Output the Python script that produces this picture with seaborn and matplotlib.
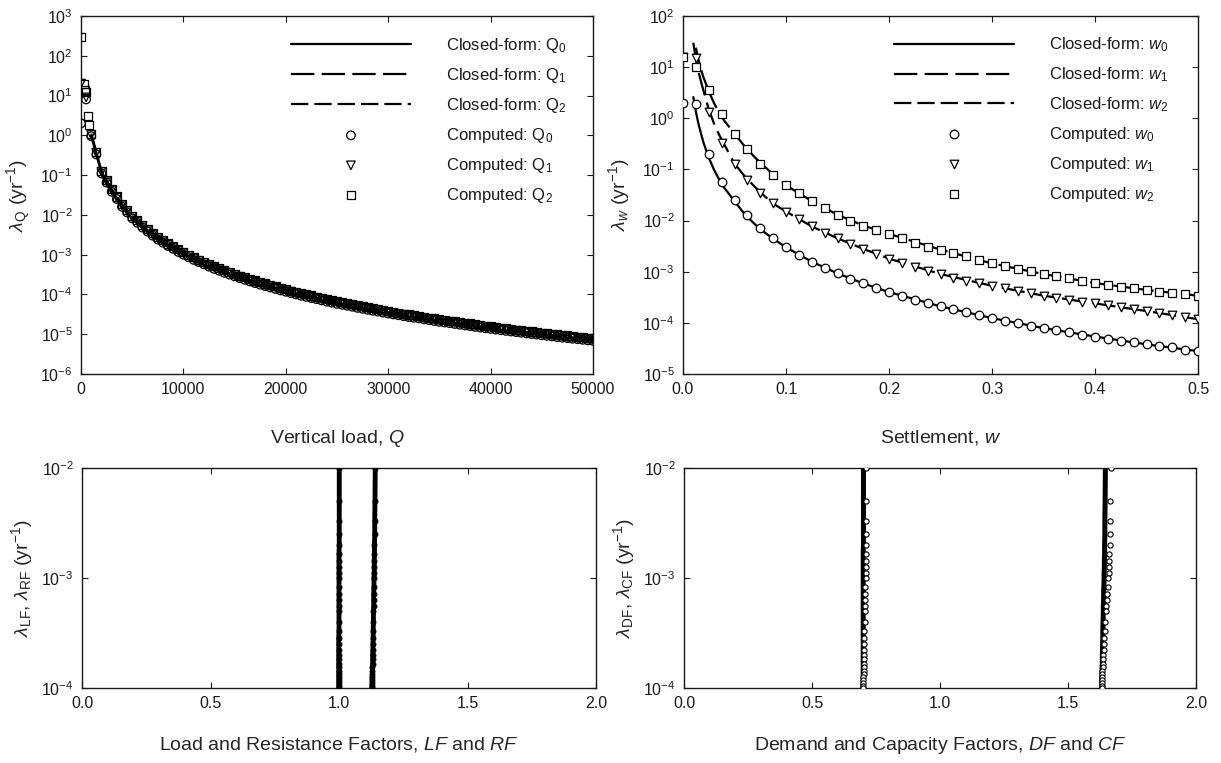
import matplotlib
matplotlib.use('Agg')
import matplotlib.pyplot as plt
import matplotlib.ticker as mticker
import seaborn as sns

# ---- top-left: vertical load Q ----
q_vals = [0, 500, 1000, 1500, 2000, 2500, 3000, 3500, 4000, 4500,
          5000, 5500, 6000, 6500, 7000, 7500, 8000, 8500, 9000, 9500,
          10000, 10500, 11000, 11500, 12000, 12500, 13000, 13500, 14000, 14500,
          15000, 15500, 16000, 16500, 17000, 17500, 18000, 18500, 19000, 19500,
          20000, 20500, 21000, 21500, 22000, 22500, 23000, 23500, 24000, 24500,
          25000, 25500, 26000, 26500, 27000, 27500, 28000, 28500, 29000, 29500,
          30000, 30500, 31000, 31500, 32000, 32500, 33000, 33500, 34000, 34500,
          35000, 35500, 36000, 36500, 37000, 37500, 38000, 38500, 39000, 39500,
          40000, 40500, 41000, 41500, 42000, 42500, 43000, 43500, 44000, 44500,
          45000, 45500, 46000, 46500, 47000, 47500, 48000, 48500, 49000, 49500,
          50000]
lam_q0 = [2.0, 8.0, 0.95, 0.33, 0.11, 0.065, 0.038, 0.025, 0.016, 0.0115,
          0.0082, 0.0063, 0.0048, 0.0038, 0.0030, 0.0024, 0.0020, 0.00165, 0.0014, 0.00117,
          1.0e-3, 8.6e-4, 7.4e-4, 6.5e-4, 5.7e-4, 5.0e-4, 4.4e-4, 3.94e-4, 3.5e-4, 3.16e-4,
          2.85e-4, 2.57e-4, 2.33e-4, 2.12e-4, 1.93e-4, 1.76e-4, 1.62e-4, 1.49e-4, 1.37e-4, 1.26e-4,
          1.17e-4, 1.08e-4, 1.0e-4, 9.3e-5, 8.7e-5, 8.1e-5, 7.6e-5, 7.1e-5, 6.6e-5, 6.2e-5,
          5.8e-5, 5.5e-5, 5.2e-5, 4.9e-5, 4.6e-5, 4.35e-5, 4.1e-5, 3.9e-5, 3.7e-5, 3.5e-5,
          3.3e-5, 3.15e-5, 3.0e-5, 2.85e-5, 2.7e-5, 2.6e-5, 2.5e-5, 2.36e-5, 2.25e-5, 2.15e-5,
          2.05e-5, 1.97e-5, 1.9e-5, 1.81e-5, 1.73e-5, 1.66e-5, 1.6e-5, 1.53e-5, 1.47e-5, 1.41e-5,
          1.36e-5, 1.31e-5, 1.26e-5, 1.21e-5, 1.17e-5, 1.13e-5, 1.09e-5, 1.05e-5, 1.01e-5, 9.8e-6,
          9.4e-6, 9.1e-6, 8.8e-6, 8.5e-6, 8.2e-6, 8.0e-6, 7.7e-6, 7.5e-6, 7.25e-6, 7.0e-6,
          6.8e-6]
lam_q1 = [20.0, 9.0, 1.03, 0.36, 0.12, 0.07, 0.041, 0.027, 0.0173, 0.0124,
          0.0089, 0.0068, 0.0052, 0.0041, 0.0032, 0.0026, 0.00216, 0.00178, 0.00151, 0.00126,
          1.08e-3, 9.3e-4, 8.0e-4, 7.0e-4, 6.2e-4, 5.4e-4, 4.75e-4, 4.25e-4, 3.78e-4, 3.41e-4,
          3.08e-4, 2.78e-4, 2.52e-4, 2.29e-4, 2.08e-4, 1.9e-4, 1.75e-4, 1.61e-4, 1.48e-4, 1.36e-4,
          1.26e-4, 1.17e-4, 1.08e-4, 1.0e-4, 9.4e-5, 8.7e-5, 8.2e-5, 7.7e-5, 7.1e-5, 6.7e-5,
          6.3e-5, 5.9e-5, 5.6e-5, 5.3e-5, 5.0e-5, 4.7e-5, 4.4e-5, 4.2e-5, 4.0e-5, 3.8e-5,
          3.56e-5, 3.4e-5, 3.24e-5, 3.08e-5, 2.92e-5, 2.8e-5, 2.7e-5, 2.55e-5, 2.43e-5, 2.32e-5,
          2.21e-5, 2.13e-5, 2.05e-5, 1.95e-5, 1.87e-5, 1.79e-5, 1.73e-5, 1.65e-5, 1.59e-5, 1.52e-5,
          1.47e-5, 1.41e-5, 1.36e-5, 1.31e-5, 1.26e-5, 1.22e-5, 1.18e-5, 1.13e-5, 1.09e-5, 1.06e-5,
          1.02e-5, 9.8e-6, 9.5e-6, 9.2e-6, 8.9e-6, 8.6e-6, 8.3e-6, 8.1e-6, 7.8e-6, 7.6e-6,
          7.3e-6]
lam_q2 = [300.0, 12.0, 1.1, 0.38, 0.128, 0.075, 0.044, 0.029, 0.0186, 0.0133,
          0.0095, 0.0073, 0.0056, 0.0044, 0.0035, 0.0028, 0.00232, 0.00191, 0.00162, 0.00136,
          1.16e-3, 1.0e-3, 8.6e-4, 7.5e-4, 6.6e-4, 5.8e-4, 5.1e-4, 4.57e-4, 4.06e-4, 3.67e-4,
          3.31e-4, 2.98e-4, 2.7e-4, 2.46e-4, 2.24e-4, 2.04e-4, 1.88e-4, 1.73e-4, 1.59e-4, 1.46e-4,
          1.36e-4, 1.25e-4, 1.16e-4, 1.08e-4, 1.01e-4, 9.4e-5, 8.8e-5, 8.2e-5, 7.7e-5, 7.2e-5,
          6.7e-5, 6.4e-5, 6.0e-5, 5.7e-5, 5.3e-5, 5.05e-5, 4.76e-5, 4.5e-5, 4.3e-5, 4.06e-5,
          3.83e-5, 3.65e-5, 3.48e-5, 3.3e-5, 3.13e-5, 3.0e-5, 2.9e-5, 2.74e-5, 2.61e-5, 2.5e-5,
          2.38e-5, 2.29e-5, 2.2e-5, 2.1e-5, 2.0e-5, 1.93e-5, 1.86e-5, 1.77e-5, 1.7e-5, 1.64e-5,
          1.58e-5, 1.52e-5, 1.46e-5, 1.4e-5, 1.36e-5, 1.31e-5, 1.26e-5, 1.22e-5, 1.17e-5, 1.14e-5,
          1.09e-5, 1.06e-5, 1.02e-5, 9.9e-6, 9.5e-6, 9.3e-6, 8.9e-6, 8.7e-6, 8.4e-6, 8.1e-6,
          7.9e-6]
q_early = [250, 400, 650, 800]
lam_q2_early = [20.0, 14.0, 3.0, 1.8]

# ---- top-right: settlement w ----
w_vals = [0.0, 0.0125, 0.025, 0.0375, 0.05, 0.0625, 0.075, 0.0875, 0.1, 0.1125,
          0.125, 0.1375, 0.15, 0.1625, 0.175, 0.1875, 0.2, 0.2125, 0.225, 0.2375,
          0.25, 0.2625, 0.275, 0.2875, 0.3, 0.3125, 0.325, 0.3375, 0.35, 0.3625,
          0.375, 0.3875, 0.4, 0.4125, 0.425, 0.4375, 0.45, 0.4625, 0.475, 0.4875, 0.5]
lam_w0 = [2.0, 1.9, 0.2, 0.057, 0.025, 0.013, 0.0072, 0.0045, 0.0030, 0.00213,
          0.00157, 0.00119, 0.00093, 0.00073, 0.00059, 0.00048, 0.00040, 0.000337, 0.000286, 0.000244,
          0.00021, 0.000183, 0.00016, 0.00014, 0.000124, 0.00011, 9.8e-5, 8.8e-5, 7.9e-5, 7.2e-5,
          6.5e-5, 5.9e-5, 5.4e-5, 4.9e-5, 4.5e-5, 4.15e-5, 3.8e-5, 3.5e-5, 3.3e-5, 3.0e-5, 2.8e-5]
lam_w1 = [16.0, 15.0, 1.34, 0.33, 0.13, 0.063, 0.035, 0.022, 0.015, 0.0105,
          0.0077, 0.0058, 0.0045, 0.0035, 0.0028, 0.0022, 0.0018, 0.00148, 0.00124, 0.00105,
          0.0009, 0.00077, 0.00067, 0.00059, 0.00053, 0.00047, 0.00042, 0.00038, 0.00034, 0.00031,
          0.00028, 0.00026, 0.00024, 0.00022, 0.0002, 0.000185, 0.00017, 0.000156, 0.000144, 0.000131, 0.000118]
lam_w2 = [16.0, 10.0, 3.5, 1.2, 0.5, 0.25, 0.13, 0.077, 0.049, 0.034,
          0.024, 0.0175, 0.013, 0.0100, 0.0080, 0.0066, 0.0055, 0.0045, 0.0037, 0.0031,
          0.0027, 0.0023, 0.0020, 0.0017, 0.00145, 0.00128, 0.00114, 0.00101, 0.0009, 0.00082,
          0.00074, 0.00066, 0.0006, 0.00056, 0.00051, 0.00047, 0.00044, 0.00041, 0.00038, 0.00036, 0.00034]

w_line = [0.01, 0.0125, 0.015, 0.0175, 0.02, 0.025, 0.03, 0.035, 0.04, 0.05,
          0.06, 0.07, 0.08, 0.09, 0.1, 0.125, 0.15, 0.175, 0.2, 0.25,
          0.3, 0.35, 0.4, 0.45, 0.5]
cf_w0 = [2.6, 1.35, 0.78, 0.5, 0.33, 0.17, 0.1, 0.064, 0.044, 0.024,
         0.0132, 0.0084, 0.0057, 0.0041, 0.003, 0.00157, 0.00093, 0.00059, 0.0004, 0.00021,
         0.000124, 7.9e-5, 5.4e-5, 3.8e-5, 2.8e-5]
cf_w1 = [30.0, 14.5, 8.3, 5.2, 3.4, 1.5, 0.8, 0.48, 0.31, 0.13,
         0.073, 0.045, 0.029, 0.020, 0.015, 0.0077, 0.0045, 0.0028, 0.0018, 0.0009,
         0.00053, 0.00034, 0.00024, 0.00017, 0.000118]
w_line2 = [0.0125, 0.015, 0.0175, 0.02, 0.025, 0.03, 0.035, 0.04, 0.05,
           0.06, 0.07, 0.08, 0.09, 0.1, 0.125, 0.15, 0.175, 0.2, 0.25,
           0.3, 0.35, 0.4, 0.45, 0.5]
cf_w2 = [24.0, 14.0, 9.0, 6.2, 3.4, 2.0, 1.3, 0.9, 0.5,
         0.28, 0.17, 0.11, 0.072, 0.049, 0.024, 0.013, 0.008, 0.0055, 0.0027,
         0.00145, 0.0009, 0.0006, 0.00044, 0.00034]

# ---- bottom: factors ----
lam_f = [1.0e-2, 5.0e-3, 3.33e-3, 2.5e-3, 2.0e-3, 1.67e-3, 1.43e-3, 1.25e-3, 1.11e-3, 1.0e-3,
         8.3e-4, 7.1e-4, 6.25e-4, 5.6e-4, 5.0e-4, 4.0e-4, 3.33e-4, 2.86e-4, 2.5e-4, 2.22e-4,
         2.0e-4, 1.82e-4, 1.67e-4, 1.54e-4, 1.43e-4, 1.33e-4, 1.25e-4, 1.18e-4, 1.11e-4, 1.05e-4, 1.0e-4]
lf_vals = [1.001, 1.001, 1.001, 1.001, 1.001, 1.0, 1.0, 1.0, 1.0, 1.0,
           1.0, 1.0, 1.0, 1.0, 1.0, 1.0, 1.0, 0.999, 0.999, 0.999,
           0.999, 0.999, 0.999, 0.999, 0.999, 0.999, 0.999, 0.999, 0.999, 0.999, 0.999]
rf_vals = [1.141, 1.140, 1.139, 1.139, 1.138, 1.138, 1.137, 1.137, 1.137, 1.136,
           1.136, 1.135, 1.135, 1.135, 1.134, 1.134, 1.133, 1.133, 1.132, 1.132,
           1.131, 1.131, 1.131, 1.130, 1.130, 1.130, 1.129, 1.129, 1.129, 1.128, 1.128]
df_line = [0.701, 0.701, 0.701, 0.701, 0.701, 0.700, 0.700, 0.700, 0.700, 0.700,
           0.700, 0.700, 0.700, 0.700, 0.700, 0.700, 0.700, 0.700, 0.700, 0.700,
           0.700, 0.700, 0.700, 0.700, 0.700, 0.700, 0.700, 0.700, 0.699, 0.699, 0.699]
df_pts = [0.712, 0.712, 0.711, 0.711, 0.711, 0.710, 0.710, 0.710, 0.709, 0.709,
          0.708, 0.708, 0.707, 0.707, 0.706, 0.706, 0.705, 0.705, 0.704, 0.704,
          0.703, 0.703, 0.703, 0.702, 0.702, 0.702, 0.701, 0.701, 0.701, 0.700, 0.700]
cf_line = [1.646, 1.645, 1.644, 1.644, 1.643, 1.643, 1.642, 1.642, 1.641, 1.641,
           1.640, 1.639, 1.639, 1.638, 1.638, 1.637, 1.636, 1.636, 1.635, 1.635,
           1.634, 1.634, 1.634, 1.633, 1.633, 1.633, 1.632, 1.632, 1.632, 1.632, 1.631]
cf_pts = [1.668, 1.666, 1.665, 1.664, 1.663, 1.662, 1.661, 1.660, 1.659, 1.658,
          1.656, 1.654, 1.652, 1.650, 1.648, 1.646, 1.644, 1.642, 1.640, 1.639,
          1.638, 1.637, 1.636, 1.635, 1.634, 1.633, 1.633, 1.632, 1.632, 1.632, 1.631]

INK = '#1a1a1a'
DASH_1 = (0, (10.5, 3.3))
DASH_2 = (0, (7.8, 2.7))


def style_axis(ax, xlim, xticks, xfmt, ylim):
    ax.set_yscale('log')
    ax.set_xlim(*xlim)
    ax.set_ylim(*ylim)
    ax.set_xticks(xticks)
    ax.xaxis.set_major_formatter(mticker.FormatStrFormatter(xfmt))
    ax.yaxis.set_major_locator(mticker.LogLocator(base=10, numticks=20))
    ax.yaxis.set_minor_locator(mticker.NullLocator())
    ax.tick_params(direction='in', length=4, width=0.8, top=True, right=True,
                   labelsize=11.5, pad=6, colors=INK)
    for s in ax.spines.values():
        s.set_linewidth(1.0)
        s.set_color(INK)


def add_legend(ax, handles, labels):
    ax.legend(handles, labels, loc='upper left', bbox_to_anchor=(0.41, 0.945),
              frameon=False, fontsize=12, handlelength=7.2, handletextpad=2.1,
              labelspacing=0.66, borderpad=0, borderaxespad=0, scatterpoints=1,
              labelcolor=INK)


def curve(ax, x, y, ls, label=None):
    sns.lineplot(x=x, y=y, ax=ax, color='black', linewidth=1.6, linestyle=ls,
                 estimator=None, sort=False, label=label, legend=False)


def points(ax, x, y, marker, s, fill='white', label=None):
    sns.scatterplot(x=x, y=y, ax=ax, marker=marker, s=s, color='black',
                    facecolor=fill, edgecolor='black', linewidth=0.9,
                    label=label, legend=False, zorder=3)


def main():
    sns.set_theme(style='ticks')
    plt.rcParams['font.family'] = ['Liberation Sans', 'DejaVu Sans']
    plt.rcParams['mathtext.fontset'] = 'custom'
    plt.rcParams['mathtext.rm'] = 'Liberation Sans'
    plt.rcParams['mathtext.it'] = 'Liberation Sans:italic'
    plt.rcParams['mathtext.sf'] = 'Liberation Sans'
    plt.rcParams['text.color'] = INK

    W, H = 1221, 763
    fig = plt.figure(figsize=(W / 100, H / 100), dpi=100)
    fig.patch.set_facecolor('white')

    def box(x0, x1, y0, y1):
        return [x0 / W, 1 - y1 / H, (x1 - x0) / W, (y1 - y0) / H]

    ax_q = fig.add_axes(box(81, 593, 16, 374))
    ax_w = fig.add_axes(box(683, 1198, 16, 374))
    ax_lr = fig.add_axes(box(82, 596, 468, 688))
    ax_dc = fig.add_axes(box(684, 1196, 468, 688))

    # vertical load (dense, hollow markers form a solid band)
    curve(ax_q, q_vals[2:], lam_q0[2:], '-')
    curve(ax_q, q_vals[2:], lam_q1[2:], DASH_1)
    curve(ax_q, q_vals[2:], lam_q2[2:], DASH_2)
    points(ax_q, q_vals, lam_q0, 'o', 38, fill='none')
    points(ax_q, q_vals, lam_q1, 'v', 38, fill='none')
    points(ax_q, q_vals, lam_q2, 's', 34, fill='none')
    points(ax_q, q_early, lam_q2_early, 's', 34, fill='none')
    style_axis(ax_q, (0, 50000), [0, 10000, 20000, 30000, 40000, 50000], '%d', (1e-6, 1e3))
    h = ax_q.get_lines()[:3] + ax_q.collections[:3]
    add_legend(ax_q, h, ['Closed-form: Q$_0$', 'Closed-form: Q$_1$', 'Closed-form: Q$_2$',
                         'Computed: Q$_0$', 'Computed: Q$_1$', 'Computed: Q$_2$'])
    ax_q.set_xlabel('Vertical load, $Q$', fontsize=14)
    ax_q.set_ylabel(r'$\lambda_{\rm Q}$ (yr$^{-1}$)', fontsize=14)

    # settlement
    curve(ax_w, w_line, cf_w0, '-')
    curve(ax_w, w_line, cf_w1, DASH_1)
    curve(ax_w, w_line2, cf_w2, DASH_2)
    points(ax_w, w_vals, lam_w0, 'o', 38)
    points(ax_w, w_vals, lam_w1, 'v', 38)
    points(ax_w, w_vals, lam_w2, 's', 34)
    style_axis(ax_w, (0, 0.5), [0, 0.1, 0.2, 0.3, 0.4, 0.5], '%.1f', (1e-5, 1e2))
    h = ax_w.get_lines()[:3] + ax_w.collections[:3]
    add_legend(ax_w, h, ['Closed-form: $w_0$', 'Closed-form: $w_1$', 'Closed-form: $w_2$',
                         'Computed: $w_0$', 'Computed: $w_1$', 'Computed: $w_2$'])
    ax_w.set_xlabel('Settlement, $w$', fontsize=14)
    ax_w.set_ylabel(r'$\lambda_w$ (yr$^{-1}$)', fontsize=14)

    # load and resistance factors
    for xs in (lf_vals, rf_vals):
        sns.lineplot(x=xs, y=lam_f, ax=ax_lr, color='black', linewidth=3.5,
                     estimator=None, sort=False, legend=False)
        sns.scatterplot(x=xs, y=lam_f, ax=ax_lr, marker='o', s=12, color='black',
                        edgecolor='black', linewidth=0.8, legend=False, zorder=3)
    style_axis(ax_lr, (0, 2.0), [0, 0.5, 1.0, 1.5, 2.0], '%.1f', (1e-4, 1e-2))
    ax_lr.set_xlabel('Load and Resistance Factors, $LF$ and $RF$', fontsize=14)
    ax_lr.set_ylabel(r'$\lambda_{\rm LF}$, $\lambda_{\rm RF}$ (yr$^{-1}$)', fontsize=14)

    # demand and capacity factors
    for xl, xp in ((df_line, df_pts), (cf_line, cf_pts)):
        sns.lineplot(x=xl, y=lam_f, ax=ax_dc, color='black', linewidth=3.6,
                     estimator=None, sort=False, legend=False)
        sns.scatterplot(x=xp, y=lam_f, ax=ax_dc, marker='o', s=14, color='black',
                        facecolor='white', edgecolor='black', linewidth=0.8,
                        legend=False, zorder=3)
    style_axis(ax_dc, (0, 2.0), [0, 0.5, 1.0, 1.5, 2.0], '%.1f', (1e-4, 1e-2))
    ax_dc.set_xlabel('Demand and Capacity Factors, $DF$ and $CF$', fontsize=14)
    ax_dc.set_ylabel(r'$\lambda_{\rm DF}$, $\lambda_{\rm CF}$ (yr$^{-1}$)', fontsize=14)

    ax_q.xaxis.set_label_coords(0.5, -0.151)
    ax_w.xaxis.set_label_coords(0.5, -0.151)
    ax_lr.xaxis.set_label_coords(0.5, -0.215)
    ax_dc.xaxis.set_label_coords(0.5, -0.215)
    ax_q.yaxis.set_label_coords(-0.094, 0.5)
    ax_w.yaxis.set_label_coords(-0.099, 0.5)
    ax_lr.yaxis.set_label_coords(-0.091, 0.5)
    ax_dc.yaxis.set_label_coords(-0.092, 0.5)

    fig.savefig('out.png', dpi=100, facecolor='white')


if __name__ == '__main__':
    main()
